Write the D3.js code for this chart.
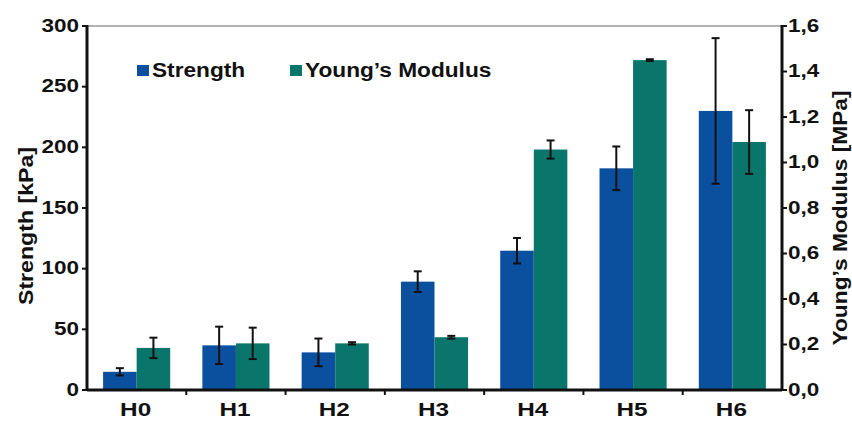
<!DOCTYPE html>
<html>
<head>
<meta charset="utf-8">
<script src="https://cdn.jsdelivr.net/npm/d3@7"></script>
<style>
  html, body { margin: 0; padding: 0; background: #fff; }
  svg { display: block; font-family: Arial, "Liberation Sans", sans-serif; font-weight: bold; }
</style>
</head>
<body>
<svg id="chart" width="852" height="421"></svg>
<script>
// Sample groups
const categories = ["H0", "H1", "H2", "H3", "H4", "H5", "H6"];
// Strength in kPa (left axis)
const strength    = [15, 36.8, 31, 89.3, 114.8, 182.7, 230];
const strengthErr = [3, 15.4, 11.4, 8.5, 10.5, 18, 60];
// Young's modulus in MPa (right axis)
const modulus     = [0.185, 0.205, 0.205, 0.232, 1.057, 1.45, 1.09];
const modulusErr  = [0.045, 0.069, 0.005, 0.006, 0.04, 0.004, 0.14];
// Axis ticks
const leftTicks  = [0, 50, 100, 150, 200, 250, 300];
const rightTicks = [0, 0.2, 0.4, 0.6, 0.8, 1.0, 1.2, 1.4, 1.6];
const seriesNames = ["Strength", "Young\u2019s Modulus"];
const colors = ["#0b4f9f", "#0a766b"];

const svg = d3.select("#chart");
const plot = { left: 87, right: 782, top: 26, bottom: 390 };

const x0 = d3.scaleBand().domain(categories)
  .range([plot.left, plot.right]).paddingInner(0.324).paddingOuter(0.162);
const x1 = d3.scaleBand().domain([0, 1]).range([0, x0.bandwidth()]);
const yL = d3.scaleLinear().domain([0, 300]).range([plot.bottom, plot.top]);
const yR = d3.scaleLinear().domain([0, 1.6]).range([plot.bottom, plot.top]);

// Text with a slight horizontal stretch
function label(g, x, y, str, size, sx, anchor, baseline) {
  return g.append("text")
    .attr("transform", `translate(${x},${y}) scale(${sx},1)`)
    .attr("text-anchor", anchor || "start")
    .attr("dominant-baseline", baseline || "auto")
    .attr("font-size", size)
    .attr("fill", "#111")
    .text(str);
}

// Top frame line
svg.append("line")
  .attr("x1", plot.left).attr("x2", plot.right)
  .attr("y1", plot.top).attr("y2", plot.top)
  .attr("stroke", "#9a9a9a").attr("stroke-width", 1.5);

// Bars
const series = [
  { vals: strength, err: strengthErr, y: yL },
  { vals: modulus, err: modulusErr, y: yR }
];
series.forEach((s, si) => {
  const g = svg.append("g");
  g.selectAll("rect").data(categories).join("rect")
    .attr("x", (c) => x0(c) + x1(si))
    .attr("width", x1.bandwidth())
    .attr("y", (c, i) => s.y(s.vals[i]))
    .attr("height", (c, i) => plot.bottom - s.y(s.vals[i]))
    .attr("fill", colors[si]);
});

// Error bars
series.forEach((s, si) => {
  const g = svg.append("g").attr("stroke", "#111").attr("stroke-width", 2);
  categories.forEach((c, i) => {
    const cx = x0(c) + x1(si) + x1.bandwidth() / 2;
    const hi = s.y(s.vals[i] + s.err[i]);
    const lo = s.y(s.vals[i] - s.err[i]);
    g.append("line").attr("x1", cx).attr("x2", cx).attr("y1", hi).attr("y2", lo);
    g.append("line").attr("x1", cx - 4).attr("x2", cx + 4).attr("y1", hi).attr("y2", hi);
    g.append("line").attr("x1", cx - 4).attr("x2", cx + 4).attr("y1", lo).attr("y2", lo);
  });
});

// Left axis
const gl = svg.append("g");
gl.append("line").attr("x1", plot.left).attr("x2", plot.left)
  .attr("y1", plot.top - 1).attr("y2", plot.bottom + 1)
  .attr("stroke", "#111").attr("stroke-width", 3);
leftTicks.forEach((t) => {
  gl.append("line").attr("x1", plot.left - 5).attr("x2", plot.left)
    .attr("y1", yL(t)).attr("y2", yL(t)).attr("stroke", "#111").attr("stroke-width", 2);
  label(gl, 79, yL(t) + 1, d3.format("d")(t), 18, 1.25, "end", "middle");
});

// Right axis
const gr = svg.append("g");
gr.append("line").attr("x1", plot.right).attr("x2", plot.right)
  .attr("y1", plot.top - 1).attr("y2", plot.bottom + 1)
  .attr("stroke", "#111").attr("stroke-width", 3);
rightTicks.forEach((t) => {
  gr.append("line").attr("x1", plot.right).attr("x2", plot.right + 5)
    .attr("y1", yR(t)).attr("y2", yR(t)).attr("stroke", "#111").attr("stroke-width", 2);
  label(gr, 788, yR(t) + 1, d3.format(".1f")(t).replace(".", ","), 18, 1.25, "start", "middle");
});

// Bottom axis with ticks between groups
const gb = svg.append("g");
gb.append("line").attr("x1", plot.left).attr("x2", plot.right)
  .attr("y1", plot.bottom).attr("y2", plot.bottom)
  .attr("stroke", "#111").attr("stroke-width", 3);
categories.slice(1).forEach((c) => {
  const tx = x0(c) - (x0.step() - x0.bandwidth()) / 2;
  gb.append("line").attr("x1", tx).attr("x2", tx)
    .attr("y1", plot.bottom).attr("y2", plot.bottom + 5)
    .attr("stroke", "#111").attr("stroke-width", 2);
});
categories.forEach((c) => {
  label(gb, x0(c) + x0.bandwidth() / 2 - 1, 416, c, 18, 1.35, "middle");
});

// Axis titles
svg.append("text")
  .attr("transform", `translate(33,226) rotate(-90)`)
  .attr("text-anchor", "middle").attr("font-size", 20)
  .attr("textLength", 158).attr("lengthAdjust", "spacingAndGlyphs")
  .attr("fill", "#111").text("Strength [kPa]");
svg.append("text")
  .attr("transform", `translate(847,218) rotate(-90)`)
  .attr("text-anchor", "middle").attr("font-size", 20)
  .attr("textLength", 255).attr("lengthAdjust", "spacingAndGlyphs")
  .attr("fill", "#111").text("Young\u2019s Modulus [MPa]");

// Legend
const legendX = [137, 290];
const lg = svg.append("g");
seriesNames.forEach((n, i) => {
  lg.append("rect").attr("x", legendX[i]).attr("y", 65).attr("width", 12).attr("height", 11)
    .attr("fill", colors[i]);
  label(lg, legendX[i] + 15, 77, n, 21, 1.08, "start");
});
</script>
</body>
</html>
